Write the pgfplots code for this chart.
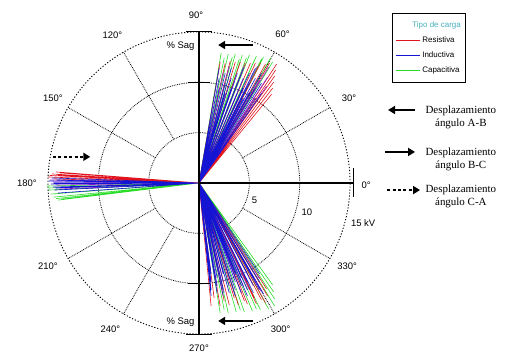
\documentclass[border=0pt]{standalone}
\usepackage{pgfplots}
\pgfplotsset{compat=1.18}
\usepackage{fontspec}
\setmainfont{Liberation Sans}
\newfontfamily\seriffont{Liberation Serif}
\usetikzlibrary{arrows.meta}
\definecolor{cred}{RGB}{225,20,30}
\definecolor{cblue}{RGB}{20,20,210}
\definecolor{cgreen}{RGB}{40,220,40}
\definecolor{cmag}{RGB}{150,30,200}
\definecolor{headc}{RGB}{70,175,190}
\begin{document}
\begin{tikzpicture}
\begin{axis}[
  x=10.07bp, y=10.07bp,
  xmin=-19.76, xmax=30.78, ymin=-16.78, ymax=18.17,
  hide axis, clip=false,
  legend cell align=left,
  legend image code/.code={\draw[#1] (0cm,0cm) -- (0.85cm,0cm);},
  legend style={at={(axis cs:19.17,16.88)}, anchor=north west, draw=black, line width=0.8pt,
    inner xsep=3pt, inner ysep=6pt, row sep=4pt,
    font=\fontsize{8}{9.5}\selectfont},
]
\addlegendimage{empty legend}\addlegendentry{\hspace*{-10pt}\textcolor{headc}{Tipo de carga}}
\addlegendimage{cred, line width=0.8pt}\addlegendentry{Resistiva}
\addlegendimage{cblue, line width=0.8pt}\addlegendentry{Inductiva}
\addlegendimage{cgreen, line width=0.8pt}\addlegendentry{Capacitiva}

% grid circles
\draw[densely dotted, line width=0.8pt] (axis cs:0,0) circle[radius=5];
\draw[densely dotted, line width=0.8pt] (axis cs:0,0) circle[radius=10];
\draw[dash pattern=on 1.2pt off 1.8pt, line width=0.9pt] (axis cs:0,0) circle[radius=15];
% radial grid lines
\addplot[forget plot, densely dotted, line width=0.8pt] coordinates {(4.33,2.5) (12.99,7.5)};
\addplot[forget plot, densely dotted, line width=0.8pt] coordinates {(2.5,4.33) (7.5,12.99)};
\addplot[forget plot, densely dotted, line width=0.8pt] coordinates {(-2.5,4.33) (-7.5,12.99)};
\addplot[forget plot, densely dotted, line width=0.8pt] coordinates {(-4.33,2.5) (-12.99,7.5)};
\addplot[forget plot, densely dotted, line width=0.8pt] coordinates {(-4.33,-2.5) (-12.99,-7.5)};
\addplot[forget plot, densely dotted, line width=0.8pt] coordinates {(-2.5,-4.33) (-7.5,-12.99)};
\addplot[forget plot, densely dotted, line width=0.8pt] coordinates {(2.5,-4.33) (7.5,-12.99)};
\addplot[forget plot, densely dotted, line width=0.8pt] coordinates {(4.33,-2.5) (12.99,-7.5)};

% ---- top cluster ----
\addplot[forget plot, cgreen, line width=0.6pt, line join=round] coordinates {
 (0,0) (2.2,12.9) (0,0) (2.9,12.8) (0,0) (3.6,12.8) (0,0) (4.3,12.7) (0,0) (5.0,12.7)
 (0,0) (5.7,12.6) (0,0) (6.4,12.5) (0,0) (7.1,12.4) (0,0) (2.5,12.4) (0,0) (4.0,12.3)
 (0,0) (5.5,12.2) (0,0) (7.3,12.0) (0,0) (3.3,12.5) (0,0) (4.7,12.4) (0,0) (6.2,12.3) (0,0)};
\addplot[forget plot, cred, line width=0.6pt, line join=round] coordinates {
 (0,0) (7.7,11.8) (0,0) (7.6,11.2) (0,0) (7.5,10.6) (0,0) (7.4,10.0) (0,0) (7.3,9.4)
 (0,0) (7.2,8.8) (0,0) (2.1,12.0) (0,0) (3.1,12.1) (0,0) (4.1,12.0) (0,0) (5.1,11.9)
 (0,0) (6.1,11.9) (0,0) (7.0,11.9) (0,0) (2.6,11.9) (0,0) (3.6,12.0) (0,0) (4.6,11.9)
 (0,0) (5.6,11.9) (0,0) (6.6,11.8) (0,0)};
\addplot[forget plot, cmag, line width=0.6pt, line join=round] coordinates {
 (0,0) (6.9,11.5) (0,0) (6.8,10.5) (0,0) (6.7,9.6) (0,0) (5.8,11.6) (0,0) (3.0,11.6)
 (0,0) (4.5,11.6) (0,0) (2.4,11.0) (0,0) (3.5,10.0) (0,0) (5.0,9.0) (0,0) (6.0,10.2) (0,0)};
\addplot[forget plot, cblue, line width=0.6pt, line join=round] coordinates {
 (0,0) (2.0,8.4) (0,0) (2.0,9.4) (0,0) (2.0,10.4) (0,0) (2.0,11.4)
 (0,0) (2.6,8.9) (0,0) (2.6,9.9) (0,0) (2.6,10.9)
 (0,0) (3.2,8.4) (0,0) (3.2,9.4) (0,0) (3.2,10.4) (0,0) (3.2,11.4)
 (0,0) (3.8,8.9) (0,0) (3.8,9.9) (0,0) (3.8,10.9)
 (0,0) (4.4,8.4) (0,0) (4.4,9.4) (0,0) (4.4,10.4) (0,0) (4.4,11.4)
 (0,0) (5.0,8.9) (0,0) (5.0,9.9) (0,0) (5.0,10.9)
 (0,0) (5.6,8.4) (0,0) (5.6,9.4) (0,0) (5.6,10.4) (0,0) (5.6,11.4)
 (0,0) (6.2,8.9) (0,0) (6.2,9.9) (0,0) (6.2,10.9) (0,0)};

% ---- left cluster ----
\addplot[forget plot, cgreen, line width=0.6pt, line join=round] coordinates {
 (0,0) (-15.1,-0.3) (0,0) (-14.9,-0.7) (0,0) (-14.7,-1.1) (0,0) (-14.4,-1.4)
 (0,0) (-14.0,-1.7) (0,0) (-13.6,-1.6) (0,0) (-15.0,-0.5) (0,0) (-14.2,-1.55) (0,0)};
\addplot[forget plot, cred, line width=0.6pt, line join=round] coordinates {
 (0,0) (-14.2,1.1) (0,0) (-14.6,0.9) (0,0) (-15.0,0.6) (0,0) (-13.8,1.0) (0,0) (-14.4,0.4)
 (0,0) (-14.0,0.8) (0,0) (-14.8,0.75) (0,0)};
\addplot[forget plot, cmag, line width=0.6pt, line join=round] coordinates {
 (0,0) (-14.8,0.3) (0,0) (-14.2,-0.2) (0,0) (-14.5,0.1) (0,0) (-13.9,-0.6) (0,0)};
\addplot[forget plot, cblue, line width=0.6pt, line join=round] coordinates {
 (0,0) (-14.9,0.2) (0,0) (-14.7,-0.1) (0,0) (-14.5,-0.4) (0,0) (-14.3,-0.7)
 (0,0) (-14.0,-1.0) (0,0) (-14.6,0.5) (0,0) (-14.1,0.3) (0,0) (-13.8,-0.4)
 (0,0) (-14.4,0.0) (0,0) (-14.2,-0.5) (0,0)};

% ---- bottom cluster ----
\addplot[forget plot, cgreen, line width=0.6pt, line join=round] coordinates {
 (0,0) (2.1,-12.9) (0,0) (2.9,-12.9) (0,0) (3.7,-12.8) (0,0) (4.5,-12.8) (0,0) (5.3,-12.7)
 (0,0) (6.1,-12.6) (0,0) (6.9,-12.5) (0,0) (7.5,-12.2) (0,0) (7.5,-11.5) (0,0) (7.4,-10.8)
 (0,0) (7.3,-10.1) (0,0) (2.5,-12.6) (0,0) (4.1,-12.6) (0,0) (5.7,-12.5) (0,0)};
\addplot[forget plot, cred, line width=0.6pt, line join=round] coordinates {
 (0,0) (1.2,-12.2) (0,0) (2.1,-12.2) (0,0) (3.0,-12.1) (0,0) (3.9,-12.1) (0,0) (4.8,-12.0)
 (0,0) (5.7,-12.0) (0,0) (6.6,-11.9) (0,0) (6.8,-11.2) (0,0) (6.7,-10.5) (0,0) (1.5,-11.4)
 (0,0) (3.5,-11.4) (0,0) (5.5,-11.4) (0,0) (2.5,-11.7) (0,0) (4.5,-11.7) (0,0) (6.2,-11.6) (0,0)};
\addplot[forget plot, cmag, line width=0.6pt, line join=round] coordinates {
 (0,0) (6.2,-10.8) (0,0) (5.0,-10.6) (0,0) (2.5,-10.9) (0,0) (6.0,-9.5) (0,0) (1.6,-9.4)
 (0,0) (3.6,-9.4) (0,0) (4.4,-10.2) (0,0)};
\addplot[forget plot, cblue, line width=0.6pt, line join=round] coordinates {
 (0,0) (1.2,-9.0) (0,0) (1.2,-9.8) (0,0) (1.2,-10.6) (0,0) (1.2,-11.2)
 (0,0) (1.8,-9.4) (0,0) (1.8,-10.2) (0,0) (1.8,-10.9)
 (0,0) (2.4,-9.0) (0,0) (2.4,-9.8) (0,0) (2.4,-10.6) (0,0) (2.4,-11.2)
 (0,0) (3.0,-9.4) (0,0) (3.0,-10.2) (0,0) (3.0,-10.9)
 (0,0) (3.6,-9.0) (0,0) (3.6,-9.8) (0,0) (3.6,-10.6) (0,0) (3.6,-11.2)
 (0,0) (4.2,-9.4) (0,0) (4.2,-10.2) (0,0) (4.2,-10.9)
 (0,0) (4.8,-9.0) (0,0) (4.8,-9.8) (0,0) (4.8,-10.6) (0,0) (4.8,-11.2)
 (0,0) (5.4,-9.4) (0,0) (5.4,-10.2) (0,0) (5.4,-10.9)
 (0,0) (6.0,-9.0) (0,0) (6.0,-9.8) (0,0) (6.0,-10.6) (0,0) (6.4,-11.0) (0,0)};

% solid axes
\draw[line width=1.1pt] (axis cs:0,15) -- (axis cs:0,-15);
\draw[line width=1.1pt] (axis cs:0,0) -- (axis cs:15.3,0);
\draw[line width=1.1pt] (axis cs:15.3,1.5) -- (axis cs:15.3,-1.4);
\draw[line width=1.1pt] (axis cs:-1.1,10) -- (axis cs:1.1,10);
\draw[line width=1.1pt] (axis cs:-1.1,-10) -- (axis cs:1.1,-10);
\draw[line width=1.1pt] (axis cs:-1.3,15) -- (axis cs:1.3,15);
\draw[line width=1.1pt] (axis cs:-1.3,-15) -- (axis cs:1.3,-15);

% angle labels
\begin{scope}[every node/.style={font=\fontsize{9.5}{11}\selectfont}]
\node at (axis cs:16.6,-0.2) {0°};
\node at (axis cs:14.9,8.4) {30°};
\node at (axis cs:8.3,14.8) {60°};
\node at (axis cs:-0.3,16.7) {90°};
\node at (axis cs:-8.6,14.7) {120°};
\node at (axis cs:-14.5,8.4) {150°};
\node at (axis cs:-17.1,0) {180°};
\node at (axis cs:-15.0,-8.3) {210°};
\node at (axis cs:-8.8,-14.5) {240°};
\node at (axis cs:0,-16.4) {270°};
\node at (axis cs:8.1,-14.5) {300°};
\node at (axis cs:14.7,-8.3) {330°};
\node at (axis cs:5.5,-1.7) {5};
\node at (axis cs:10.7,-2.9) {10};
\node at (axis cs:16.3,-3.95) {15 kV};
\node[anchor=east] at (axis cs:-0.1,13.6) {\% Sag};
\node[anchor=east] at (axis cs:-0.1,-13.8) {\% Sag};
\end{scope}

% arrows in plot
\draw[line width=2.2pt, -{Triangle[length=7pt,width=8pt]}] (axis cs:5.4,13.7) -- (axis cs:1.9,13.7);
\draw[line width=2.2pt, -{Triangle[length=7pt,width=8pt]}] (axis cs:5.4,-13.7) -- (axis cs:1.9,-13.7);
\draw[line width=1.8pt, dash pattern=on 3pt off 2.5pt, -{Triangle[length=7pt,width=8pt]}] (axis cs:-14.5,2.6) -- (axis cs:-10.8,2.6);

% annotation arrows and texts
\draw[line width=2.2pt, -{Triangle[length=7pt,width=8pt]}] (axis cs:21.45,7.25) -- (axis cs:18.77,7.25);
\draw[line width=2.2pt, -{Triangle[length=7pt,width=8pt]}] (axis cs:18.47,3.08) -- (axis cs:21.45,3.08);
\draw[line width=1.8pt, dash pattern=on 3pt off 2.5pt, -{Triangle[length=7pt,width=8pt]}] (axis cs:18.67,-0.7) -- (axis cs:21.95,-0.7);
\begin{scope}[every node/.style={font=\seriffont\fontsize{11}{13.5}\selectfont, align=center}]
\node at (axis cs:26.0,6.5) {Desplazamiento\\ángulo A-B};
\node at (axis cs:26.0,2.33) {Desplazamiento\\ángulo B-C};
\node at (axis cs:26.0,-1.34) {Desplazamiento\\ángulo C-A};
\end{scope}
\end{axis}
\pgfresetboundingbox
\useasboundingbox (current axis.south west) rectangle (current axis.north east);
\end{tikzpicture}
\end{document}
